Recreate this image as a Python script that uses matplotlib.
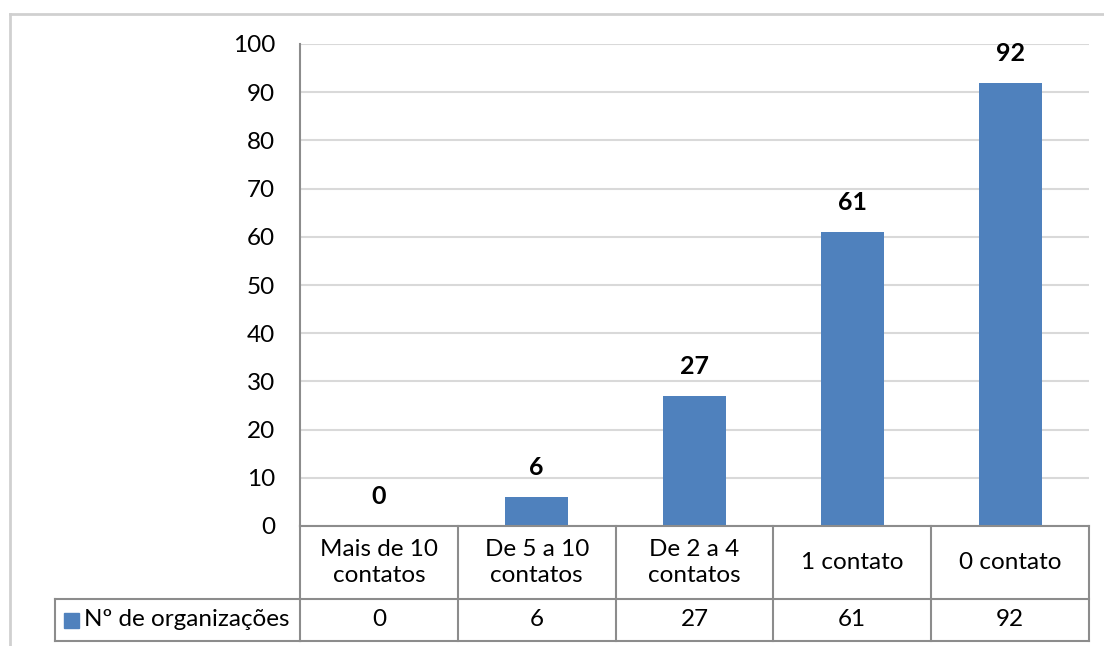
import matplotlib
matplotlib.use("Agg")
import matplotlib.pyplot as plt
from matplotlib.lines import Line2D
from matplotlib.patches import Rectangle
from matplotlib.transforms import blended_transform_factory

categories = ["Mais de 10\ncontatos", "De 5 a 10\ncontatos", "De 2 a 4\ncontatos", "1 contato", "0 contato"]
values = [0, 6, 27, 61, 92]
series_name = "Nº de organizações"
yticks = [0, 10, 20, 30, 40, 50, 60, 70, 80, 90, 100]

BAR_COLOR = "#4F81BD"
GRID_COLOR = "#D9D9D9"
TABLE_COLOR = "#8C8C8C"
FRAME_COLOR = "#D0D0D0"
FONT = ["Lato", "DejaVu Sans"]
FS = 17.5

W, H = 1104, 646
fig = plt.figure(figsize=(W / 100, H / 100), dpi=100)
fig.patch.set_facecolor("white")

def fx(px):
    return px / W

def fy(py):
    return 1 - py / H

ax_left, ax_right, ax_top, ax_bottom = 300, 1089, 44, 526
ax = fig.add_axes([fx(ax_left), fy(ax_bottom), fx(ax_right - ax_left), fy(ax_top) - fy(ax_bottom)])

x = list(range(len(categories)))
ax.bar(x, values, width=0.4, color=BAR_COLOR, zorder=3)
ax.set_xlim(-0.5, len(categories) - 0.5)
ax.set_ylim(0, 100)
ax.set_yticks(yticks)
ax.set_yticklabels([str(t) for t in yticks], fontsize=FS, family=FONT)
ax.tick_params(axis="y", length=0, pad=18)
ax.set_xticks([])
ax.yaxis.grid(True, color=GRID_COLOR, linewidth=1.5, zorder=0)
for s in ["top", "right", "bottom"]:
    ax.spines[s].set_visible(False)
ax.spines["left"].set_color(TABLE_COLOR)
ax.spines["left"].set_linewidth(1.5)

for xi, v in zip(x, values):
    ax.annotate(str(v), (xi, v), xytext=(0, 13), textcoords="offset points",
                ha="center", va="bottom", fontsize=FS + 0.5, fontweight="bold", family=FONT)

# Data table below the plot area
trans = blended_transform_factory(ax.transData, ax.transAxes)
span = ax_bottom - ax_top
row1 = -(599 - ax_bottom) / span
row2 = -(641 - ax_bottom) / span
lw = 1.5
n = len(categories)
for i in range(n + 1):
    ax.add_line(Line2D([i - 0.5, i - 0.5], [0, row2], transform=trans, color=TABLE_COLOR,
                       lw=lw, clip_on=False))
ax.add_line(Line2D([-0.5, n - 0.5], [0, 0], transform=trans, color=TABLE_COLOR, lw=lw, clip_on=False, zorder=4))
for yy in (row1, row2):
    ax.add_line(Line2D([-0.5, n - 0.5], [yy, yy], transform=trans, color=TABLE_COLOR, lw=lw, clip_on=False))
for i, (c, v) in enumerate(zip(categories, values)):
    ax.text(i, row1 / 2, c, transform=trans, ha="center", va="center", fontsize=FS,
            family=FONT, linespacing=1.3)
    ax.text(i, (row1 + row2) / 2, str(v), transform=trans, ha="center", va="center",
            fontsize=FS, family=FONT)

# Legend key cell of the table
leg_left = 55
fig.add_artist(Line2D([fx(leg_left), fx(ax_left)], [fy(599), fy(599)], color=TABLE_COLOR, lw=lw))
fig.add_artist(Line2D([fx(leg_left), fx(ax_left)], [fy(641), fy(641)], color=TABLE_COLOR, lw=lw))
fig.add_artist(Line2D([fx(leg_left), fx(leg_left)], [fy(599), fy(641)], color=TABLE_COLOR, lw=lw))
fig.add_artist(Rectangle((fx(64), fy(628)), fx(15), fy(613) - fy(628), color=BAR_COLOR))
fig.text(fx(84), fy(620), series_name, ha="left", va="center", fontsize=FS, family=FONT)

# Chart area frame
fig.add_artist(Line2D([fx(10), fx(10)], [fy(14), 0], color=FRAME_COLOR, lw=2))
fig.add_artist(Line2D([fx(10), 1], [fy(14), fy(14)], color=FRAME_COLOR, lw=2))

fig.savefig("out.png", dpi=100)
